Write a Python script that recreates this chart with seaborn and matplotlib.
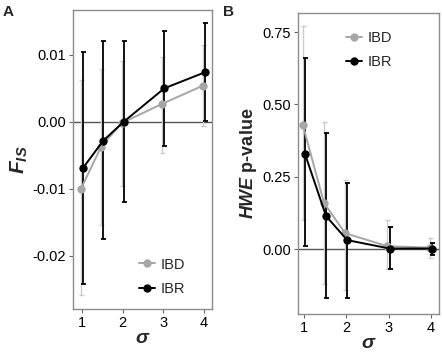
import numpy as np
import pandas as pd
import matplotlib
matplotlib.use("Agg")
import matplotlib.pyplot as plt
import seaborn as sns

sns.set_theme(style="white")
plt.rcParams['font.family'] = ['Liberation Sans', 'DejaVu Sans']
plt.rcParams['mathtext.fontset'] = 'custom'
plt.rcParams['mathtext.rm'] = 'Liberation Sans'
plt.rcParams['mathtext.it'] = 'Liberation Sans:italic'
plt.rcParams['mathtext.bf'] = 'Liberation Sans:bold'
plt.rcParams['mathtext.bfit'] = 'Liberation Sans:italic:bold'

sigma = [1, 1.5, 2, 3, 4]
models = ["IBD", "IBR"]

# Panel A: F_IS
fis_ibd = [-0.0100, -0.0037, -0.0002, 0.0027, 0.0054]
fis_ibd_hi = [0.0063, 0.0079, 0.0091, 0.0097, 0.0115]
fis_ibd_lo = [-0.0258, -0.0154, -0.0095, -0.0046, -0.0006]
fis_ibr = [-0.0069, -0.0028, 0.0000, 0.0050, 0.0074]
fis_ibr_hi = [0.0104, 0.0120, 0.0120, 0.0135, 0.0148]
fis_ibr_lo = [-0.0242, -0.0175, -0.0119, -0.0036, 0.0001]

# Panel B: HWE p-value
hwe_ibd = [0.43, 0.16, 0.055, 0.010, 0.005]
hwe_ibd_hi = [0.77, 0.44, 0.24, 0.10, 0.04]
hwe_ibd_lo = [0.10, -0.12, -0.14, -0.07, -0.03]
hwe_ibr = [0.33, 0.114, 0.031, 0.002, 0.002]
hwe_ibr_hi = [0.66, 0.40, 0.23, 0.075, 0.02]
hwe_ibr_lo = [0.01, -0.17, -0.17, -0.07, -0.02]

colors = {"IBD": "#a6a6a6", "IBR": "#000000"}
err_colors = {"IBD": "#cccccc", "IBR": "#000000"}
err_lw = {"IBD": 1.0, "IBR": 1.3}
offset = {"IBD": -0.025, "IBR": 0.025}

fig = plt.figure(figsize=(4.42, 3.53), dpi=100)
axA = fig.add_axes([0.165, 0.125, 0.315, 0.847])
axB = fig.add_axes([0.674, 0.110, 0.319, 0.853])


def panel(ax, series, ylim, xlim, yticks, ytlabels, legend_loc, anchor):
    rows = []
    for m in models:
        vals, lo, hi = series[m]
        for s, v in zip(sigma, vals):
            rows.append({"sigma": s + offset[m], "val": v, "model": m})
    df = pd.DataFrame(rows)
    ax.axhline(0, color="#555555", lw=1.0, zorder=1)
    for m in models:
        vals, lo, hi = series[m]
        xs = np.array(sigma) + offset[m]
        v = np.array(vals)
        ax.errorbar(xs, v, yerr=[v - np.array(lo), np.array(hi) - v], fmt="none",
                    ecolor=err_colors[m], elinewidth=err_lw[m], capsize=1.8,
                    capthick=err_lw[m], zorder=2)
    sns.lineplot(data=df, x="sigma", y="val", hue="model", palette=colors,
                 marker="o", markersize=6, markeredgewidth=0, lw=1.4,
                 ax=ax, zorder=3, legend=True)
    ax.set_xlim(*xlim)
    ax.set_ylim(*ylim)
    ax.set_xticks([1, 2, 3, 4])
    ax.set_xticklabels(["1", "2", "3", "4"])
    ax.set_yticks(yticks)
    ax.set_yticklabels(ytlabels)
    ax.tick_params(axis="both", which="both", direction="out", length=3,
                   width=0.8, color="#666666", labelsize=10.5,
                   labelcolor="black", pad=2, bottom=True, left=True)
    for sp in ax.spines.values():
        sp.set_color("#8c8c8c")
        sp.set_linewidth(1.0)
    ax.set_xlabel(r"$\mathbfit{\sigma}$", fontsize=14, labelpad=0)
    ax.legend(loc=legend_loc, bbox_to_anchor=anchor, frameon=False, fontsize=10.5,
              handlelength=1.1, handletextpad=0.4, labelspacing=0.7)
    return ax


panel(axA, {"IBD": (fis_ibd, fis_ibd_lo, fis_ibd_hi),
            "IBR": (fis_ibr, fis_ibr_lo, fis_ibr_hi)},
      ylim=(-0.0279, 0.0167), xlim=(0.78, 4.2),
      yticks=[-0.02, -0.01, 0.0, 0.01],
      ytlabels=["-0.02", "-0.01", "0.00", "0.01"],
      legend_loc="lower right", anchor=(0.9, 0.0))
axA.set_ylabel(r"$\mathbfit{F}_{\mathbfit{IS}}$", fontsize=15, labelpad=2)

panel(axB, {"IBD": (hwe_ibd, hwe_ibd_lo, hwe_ibd_hi),
            "IBR": (hwe_ibr, hwe_ibr_lo, hwe_ibr_hi)},
      ylim=(-0.225, 0.816), xlim=(0.86, 4.19),
      yticks=[0.0, 0.25, 0.5, 0.75],
      ytlabels=["0.00", "0.25", "0.50", "0.75"],
      legend_loc="upper right", anchor=(0.76, 0.985))
axB.set_ylabel(r"$\mathbfit{HWE}$" + " p-value", fontsize=13, fontweight="bold", labelpad=2)

fig.text(0.005, 0.985, "A", fontsize=11, fontweight="bold", va="top")
fig.text(0.505, 0.985, "B", fontsize=11, fontweight="bold", va="top")

fig.savefig("out.png", dpi=100)
